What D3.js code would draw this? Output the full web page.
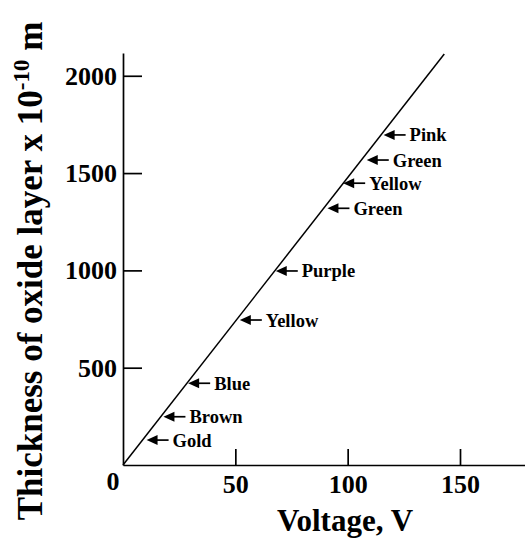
<!DOCTYPE html>
<html>
<head>
<meta charset="utf-8">
<script src="https://cdn.jsdelivr.net/npm/d3@7"></script>
<style>
  html, body { margin: 0; padding: 0; background: #fff; }
  svg { display: block; }
  text { font-family: "Liberation Serif", "Times New Roman", serif; font-weight: bold; fill: #000; }
</style>
</head>
<body>
<svg id="chart" width="525" height="540"></svg>
<script>
// Oxide layer thickness (in units of 10^-10 m) against anodising voltage,
// with the interference colour seen at each thickness.
const lineVoltage = [0, 143];
const lineThickness = [0, 2112];

const colourNames = ["Pink", "Green", "Yellow", "Green", "Purple", "Yellow", "Blue", "Brown", "Gold"];
const colourVoltage = [116, 108.5, 98, 91, 68, 52, 29, 18, 10.5];
const colourThickness = [1696, 1567, 1448, 1319, 997, 745, 420, 248, 128];

const xTicks = [50, 100, 150];
const yTicks = [500, 1000, 1500, 2000];

const svg = d3.select("#chart");

const x = d3.scaleLinear().domain([0, 180]).range([123, 527.4]);
const y = d3.scaleLinear().domain([0, 2117]).range([465, 53]);

// y axis: ticks point into the plot, labels on the left
const yAxis = svg.append("g")
  .attr("transform", `translate(${x(0)},0)`)
  .call(d3.axisLeft(y).tickValues(yTicks).tickFormat(d3.format("d"))
    .tickSizeInner(-19).tickSizeOuter(0).tickPadding(6));
yAxis.selectAll("text").style("font-size", "26px");

// x axis: ticks point up into the plot
const xAxis = svg.append("g")
  .attr("transform", `translate(0,${y(0)})`)
  .call(d3.axisBottom(x).tickValues(xTicks).tickFormat(d3.format("d"))
    .tickSizeInner(-16).tickSizeOuter(0).tickPadding(10));
xAxis.selectAll("text").style("font-size", "26px");

svg.selectAll(".domain, .tick line").attr("stroke", "#000").attr("stroke-width", 1.7);
svg.selectAll(".tick text").attr("fill", "#000").style("font-family", "'Liberation Serif', serif").style("font-weight", "bold");

// shared origin label
svg.append("text")
  .attr("x", x(0) - 10).attr("y", y(0) + 25)
  .attr("text-anchor", "middle")
  .style("font-size", "26px")
  .text("0");

// fitted straight line
const pts = lineVoltage.map((v, i) => [v, lineThickness[i]]);
svg.append("path")
  .datum(pts)
  .attr("fill", "none")
  .attr("stroke", "#000")
  .attr("stroke-width", 1.5)
  .attr("d", d3.line().x(d => x(d[0])).y(d => y(d[1])));

// colour markers: arrowhead pointing at the line, then the colour name
const marks = svg.append("g").selectAll("g")
  .data(colourNames.map((n, i) => ({ name: n, v: colourVoltage[i], t: colourThickness[i] })))
  .join("g")
  .attr("transform", d => `translate(${x(d.v)},${y(d.t)})`);

marks.append("path")
  .attr("d", "M0,0 L11,-5 L11,5 Z")
  .attr("fill", "#000");
marks.append("line")
  .attr("x1", 10).attr("x2", 22).attr("y1", 0).attr("y2", 0)
  .attr("stroke", "#000").attr("stroke-width", 1.7);
marks.append("text")
  .attr("x", 26).attr("y", 6.5)
  .style("font-size", "18.5px")
  .text(d => d.name);

// axis titles
svg.append("text")
  .attr("x", 345).attr("y", 531)
  .attr("text-anchor", "middle")
  .style("font-size", "31px")
  .text("Voltage, V");

const yTitle = svg.append("text")
  .attr("transform", "translate(42,271) rotate(-90)")
  .attr("text-anchor", "middle")
  .style("font-size", "35px");
yTitle.append("tspan").text("Thickness of oxide layer x 10");
yTitle.append("tspan").attr("dy", -13).style("font-size", "23px").text("-10");
yTitle.append("tspan").attr("dy", 13).text(" m");
</script>
</body>
</html>
